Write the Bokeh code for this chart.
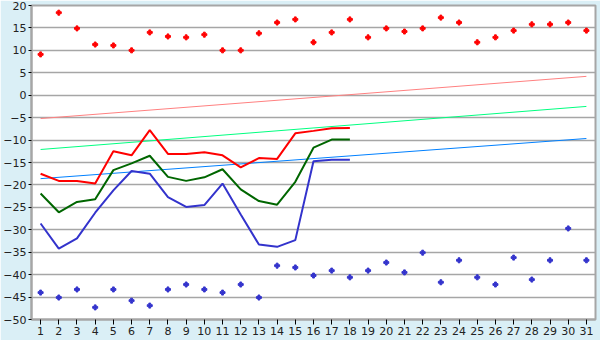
from bokeh.plotting import figure
from bokeh.models import Range1d, FixedTicker
from bokeh.embed import file_html
from bokeh.resources import INLINE

days = list(range(1, 32))
day_labels = [str(d) for d in days]

max_points = [9.1, 18.4, 14.9, 11.3, 11.1, 10.0, 14.0, 13.1, 12.9, 13.5,
              10.0, 10.0, 13.8, 16.2, 16.9, 11.8, 14.0, 16.9, 12.9, 14.9,
              14.2, 14.9, 17.3, 16.2, 11.8, 12.9, 14.4, 15.8, 15.8, 16.2, 14.4]
min_points = [-44.0, -45.1, -43.3, -47.3, -43.3, -45.8, -46.9, -43.3, -42.2, -43.3,
              -44.0, -42.2, -45.1, -38.0, -38.4, -40.2, -39.1, -40.6, -39.1, -37.3,
              -39.5, -35.1, -41.7, -36.8, -40.6, -42.2, -36.2, -41.1, -36.8, -29.7, -36.8]

line_days = list(range(1, 19))
red_line = [-17.5, -19.1, -19.1, -19.7, -12.5, -13.4, -7.8, -13.1, -13.1, -12.7,
            -13.4, -16.1, -14.0, -14.2, -8.5, -7.95, -7.35, -7.3]
green_line = [-21.9, -26.1, -23.8, -23.2, -16.7, -15.2, -13.5, -18.2, -19.1, -18.3,
              -16.5, -21.0, -23.6, -24.4, -19.3, -11.7, -9.9, -9.9]
blue_line = [-28.6, -34.2, -31.9, -26.2, -21.2, -16.9, -17.5, -22.7, -24.9, -24.5,
             -19.7, -26.6, -33.3, -33.8, -32.3, -14.7, -14.4, -14.4]

trend_days = [1, 31]
pink_trend = [-5.2, 4.2]
light_green_trend = [-12.1, -2.5]
light_blue_trend = [-18.6, -9.65]

y_ticks = list(range(-50, 25, 5))

p = figure(width=600, height=340, output_backend="svg", toolbar_location=None,
           x_range=Range1d(0.5, 31.5), y_range=Range1d(-50, 20),
           min_border_left=27, min_border_right=5, min_border_top=5,
           min_border_bottom=21)
p.background_fill_color = "white"
p.border_fill_color = "#DAEFF6"
p.outline_line_color = "#A6A6A6"
p.outline_line_width = 2

p.xgrid.visible = False
p.ygrid.grid_line_color = "#A6A6A6"
p.ygrid.grid_line_width = 1.5
p.ygrid.ticker = FixedTicker(ticks=y_ticks)

p.xaxis.ticker = FixedTicker(ticks=days)
p.xaxis.major_label_overrides = {d: l for d, l in zip(days, day_labels)}
p.yaxis.ticker = FixedTicker(ticks=y_ticks)
for ax in (p.xaxis, p.yaxis):
    ax.axis_line_color = "#A6A6A6"
    ax.axis_line_width = 2
    ax.major_tick_line_color = "black"
    ax.minor_tick_line_color = None
    ax.major_label_text_font = "DejaVu Sans"
    ax.major_label_text_font_size = "11px"
    ax.major_label_text_color = "#222222"
    ax.major_tick_in = 0
p.xaxis.major_tick_out = 5
p.yaxis.major_tick_out = 3
p.xaxis.major_label_standoff = 2
p.yaxis.major_label_standoff = 2

p.line(trend_days, pink_trend, line_color="#FF8080", line_width=1)
p.line(trend_days, light_green_trend, line_color="#00FF80", line_width=1)
p.line(trend_days, light_blue_trend, line_color="#0080FF", line_width=1)

p.line(line_days, blue_line, line_color="#3333CC", line_width=2)
p.line(line_days, green_line, line_color="#006600", line_width=2)
p.line(line_days, red_line, line_color="#FF0000", line_width=2)

p.scatter(days, max_points, marker="plus", size=5, fill_color="#FF0000",
          line_color="#FF0000", line_width=1)
p.scatter(days, min_points, marker="plus", size=5, fill_color="#3333CC",
          line_color="#3333CC", line_width=1)

open("out.html", "w").write(file_html(p, INLINE))
